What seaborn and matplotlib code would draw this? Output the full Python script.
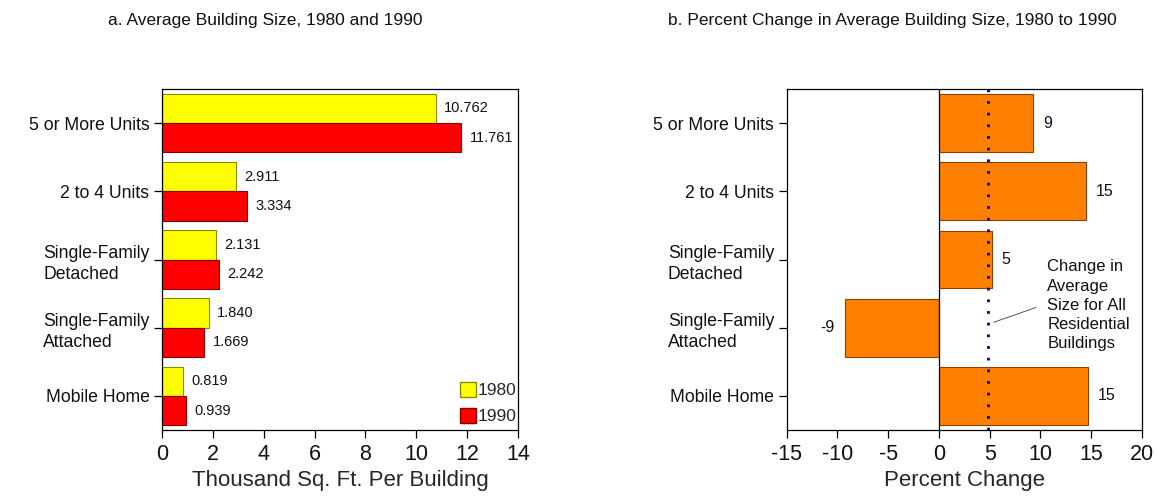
import matplotlib
matplotlib.use("Agg")
import matplotlib.pyplot as plt
import seaborn as sns
import pandas as pd
from matplotlib.patches import Patch

# ---- data ----
categories = ["5 or More Units", "2 to 4 Units", "Single-Family\nDetached",
              "Single-Family\nAttached", "Mobile Home"]
size_1980 = [10.762, 2.911, 2.131, 1.840, 0.819]
size_1990 = [11.761, 3.334, 2.242, 1.669, 0.939]
pct_change = [9.3, 14.5, 5.2, -9.3, 14.7]
pct_labels = ["9", "15", "5", "-9", "15"]
all_change = 4.8
years = ["1980", "1990"]
left_xticks = [0, 2, 4, 6, 8, 10, 12, 14]
right_xticks = [-15, -10, -5, 0, 5, 10, 15, 20]

sns.set_theme(style="white")
plt.rcParams["font.family"] = ["Liberation Sans", "DejaVu Sans"]
plt.rcParams["axes.unicode_minus"] = False

fig = plt.figure(figsize=(11.57, 5.0), dpi=100)
axL = fig.add_axes([162 / 1157, 1 - 430 / 500, 356 / 1157, 341 / 500])
axR = fig.add_axes([786.7 / 1157, 1 - 430 / 500, 355.3 / 1157, 341 / 500])

# ---- left chart ----
dfL = pd.DataFrame({
    "cat": categories * 2,
    "year": [years[0]] * 5 + [years[1]] * 5,
    "val": size_1980 + size_1990,
})
colors = {"1980": "#FFFF00", "1990": "#FF0000"}
edges = {"1980": "#8A8A00", "1990": "#8A0000"}
sns.barplot(data=dfL, y="cat", x="val", hue="year", order=categories,
            hue_order=years, palette=colors, orient="h", width=0.86,
            saturation=1, legend=False, ax=axL)
for cont, yr, vals in zip(axL.containers, years, [size_1980, size_1990]):
    for p in cont:
        p.set_edgecolor(edges[yr])
        p.set_linewidth(0.8)
    axL.bar_label(cont, labels=[f"{v:.3f}" for v in vals], padding=6,
                  fontsize=10.5, color="#111111")

axL.set_xlim(0, 14)
axL.set_ylim(4.5, -0.5)
axL.set_xticks(left_xticks)
axL.set_xlabel("Thousand Sq. Ft. Per Building", fontsize=16, labelpad=4)
axL.set_ylabel("")

handles = [Patch(facecolor=colors[y], edgecolor=edges[y], label=y) for y in years]
axL.legend(handles=handles, loc="lower right", bbox_to_anchor=(1.0, 0.012),
           frameon=False, fontsize=12.5, handlelength=0.92, handleheight=0.92,
           handletextpad=0.1, labelspacing=0.55, borderaxespad=0.0,
           borderpad=0.1)

# ---- right chart ----
dfR = pd.DataFrame({"cat": categories, "pct": pct_change})
sns.barplot(data=dfR, y="cat", x="pct", order=categories, color="#FF8000",
            orient="h", width=0.85, saturation=1, ax=axR)
for p in axR.containers[0]:
    p.set_edgecolor("#8A4000")
    p.set_linewidth(0.8)
axR.bar_label(axR.containers[0], labels=pct_labels, padding=7,
              fontsize=11.5, color="#111111")
axR.axvline(0, color="black", lw=0.9, zorder=3)
axR.axvline(all_change, color="#000080", lw=2.0, linestyle=(0, (1, 3.2)),
            dash_capstyle="butt", zorder=4)
axR.set_xlim(-15, 20)
axR.set_ylim(4.5, -0.5)
axR.set_xticks(right_xticks)
axR.set_xlabel("Percent Change", fontsize=16, labelpad=4)
axR.set_ylabel("")

axR.annotate("Change in\nAverage\nSize for All\nResidential\nBuildings",
             xy=(all_change + 0.6, 2.92), xytext=(10.66, 2.0),
             fontsize=12, ha="left", va="top", linespacing=1.35,
             color="#111111",
             arrowprops=dict(arrowstyle="-", color="#555555", lw=0.7,
                             shrinkA=6, shrinkB=0,
                             relpos=(0.0, 0.52)))

for ax in (axL, axR):
    for s in ax.spines.values():
        s.set_visible(True)
        s.set_color("black")
        s.set_linewidth(0.9)
    ax.tick_params(axis="both", which="both", direction="out", length=6,
                   width=0.9, color="black", labelsize=12.7,
                   left=True, bottom=True, pad=3)
    ax.tick_params(axis="x", labelsize=15.5, pad=4)
    for lbl in ax.get_yticklabels():
        lbl.set_multialignment("left")
        lbl.set_linespacing(1.35)
        lbl.set_color("#111111")
    for lbl in ax.get_xticklabels():
        lbl.set_color("#111111")

fig.text(265 / 1157, 1 - 21 / 500, "a. Average Building Size, 1980 and 1990",
         ha="center", va="center", fontsize=12.5, color="#111111")
fig.text(892 / 1157, 1 - 21 / 500,
         "b. Percent Change in Average Building Size, 1980 to 1990",
         ha="center", va="center", fontsize=12.5, color="#111111")

fig.savefig("out.png", dpi=100, facecolor="white")
